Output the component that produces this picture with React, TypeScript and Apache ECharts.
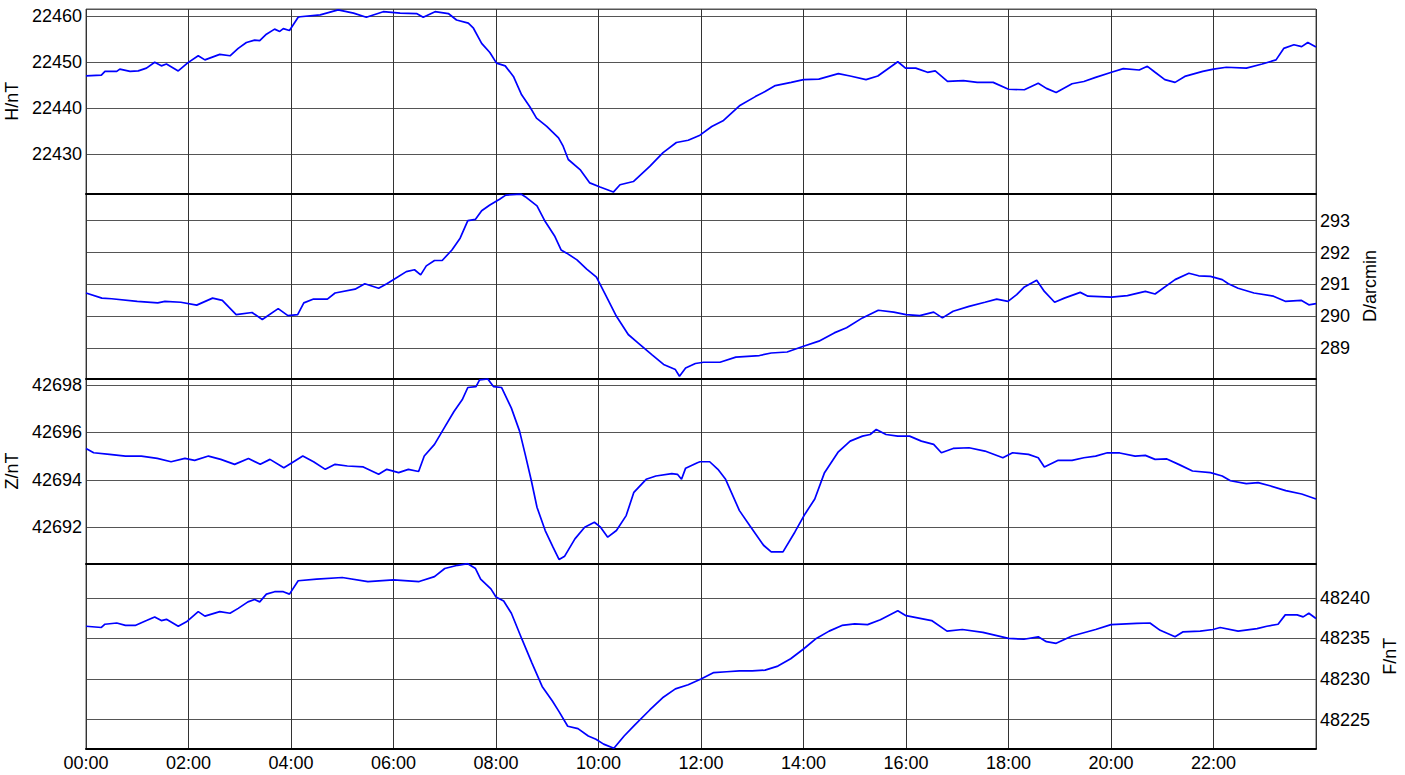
import React, { useEffect, useRef } from "react";
import * as echarts from "echarts";

// Hours of day (0..24) and values
const H_DATA: [number, number][] = [
  [0, 22447.0], [0.3, 22447.2], [0.37, 22448.0], [0.6, 22448.0], [0.66, 22448.5], [0.86, 22448.0], [1.02, 22448.1],
  [1.18, 22448.7], [1.34, 22450.0], [1.47, 22449.2], [1.57, 22449.6], [1.8, 22448.1], [1.99, 22449.9], [2.19, 22451.4],
  [2.32, 22450.5], [2.61, 22451.7], [2.81, 22451.4], [2.97, 22453.0], [3.13, 22454.3], [3.29, 22454.8], [3.39, 22454.7],
  [3.52, 22456.1], [3.68, 22457.2], [3.78, 22456.7], [3.85, 22457.3], [3.97, 22456.9], [4.14, 22459.8], [4.18, 22459.9],
  [4.57, 22460.3], [4.92, 22461.4], [5.22, 22460.7], [5.47, 22459.8], [5.8, 22461.0], [6.13, 22460.7], [6.45, 22460.6],
  [6.58, 22459.8], [6.81, 22461.0], [7.07, 22460.6], [7.23, 22459.2], [7.46, 22458.5], [7.56, 22457.4], [7.72, 22454.1],
  [7.88, 22452.1], [8.01, 22449.8], [8.18, 22449.2], [8.34, 22446.9], [8.5, 22442.9], [8.66, 22440.3], [8.79, 22437.8],
  [8.99, 22436.0], [9.22, 22433.5], [9.31, 22431.7], [9.41, 22428.8], [9.64, 22426.6], [9.83, 22423.7], [10.03, 22422.8],
  [10.29, 22421.7], [10.42, 22423.3], [10.68, 22424.0], [11.0, 22427.3], [11.26, 22430.3], [11.52, 22432.5], [11.75, 22433.0],
  [11.98, 22434.1], [12.21, 22436.0], [12.44, 22437.3], [12.75, 22440.5], [13.06, 22442.5], [13.25, 22443.6], [13.45, 22444.9],
  [13.76, 22445.6], [14.0, 22446.2], [14.3, 22446.3], [14.68, 22447.5], [14.91, 22447.0], [15.22, 22446.2], [15.45, 22447.0],
  [15.84, 22450.1], [15.99, 22448.7], [16.19, 22448.7], [16.42, 22447.8], [16.57, 22448.1], [16.81, 22445.8], [17.12, 22446.0],
  [17.39, 22445.6], [17.7, 22445.6], [18.0, 22444.1], [18.31, 22444.0], [18.58, 22445.4], [18.74, 22444.3], [18.93, 22443.4],
  [19.24, 22445.3], [19.47, 22445.8], [19.7, 22446.7], [20.01, 22447.8], [20.24, 22448.6], [20.55, 22448.3], [20.71, 22449.1],
  [20.86, 22447.8], [21.05, 22446.2], [21.25, 22445.6], [21.44, 22446.9], [21.79, 22448.0], [22.0, 22448.5], [22.25, 22448.9],
  [22.64, 22448.7], [22.95, 22449.6], [23.22, 22450.5], [23.37, 22453.0], [23.57, 22453.8], [23.72, 22453.4], [23.84, 22454.3],
  [24, 22453.3],
];

const D_DATA: [number, number][] = [
  [0, 290.73], [0.31, 290.57], [0.5, 290.55], [1, 290.47], [1.4, 290.42], [1.54, 290.47], [1.85, 290.44], [2.16, 290.35],
  [2.47, 290.57], [2.66, 290.5], [2.93, 290.05], [3.24, 290.12], [3.44, 289.9], [3.75, 290.24], [3.94, 290.02], [4.13, 290.05],
  [4.25, 290.42], [4.44, 290.54], [4.71, 290.54], [4.86, 290.73], [5.25, 290.85], [5.44, 291.02], [5.71, 290.88], [5.87, 291.02],
  [6.02, 291.17], [6.25, 291.4], [6.41, 291.46], [6.53, 291.3], [6.64, 291.58], [6.8, 291.75], [6.95, 291.75], [7.14, 292.08],
  [7.3, 292.45], [7.45, 293.0], [7.6, 293.04], [7.72, 293.31], [7.88, 293.49], [8.07, 293.67], [8.19, 293.8], [8.49, 293.83],
  [8.57, 293.75], [8.8, 293.46], [8.96, 292.97], [9.15, 292.5], [9.27, 292.08], [9.38, 291.98], [9.58, 291.77], [9.77, 291.48],
  [9.96, 291.23], [10.12, 290.73], [10.35, 290.0], [10.58, 289.43], [10.77, 289.17], [11.04, 288.8], [11.27, 288.49],
  [11.5, 288.33], [11.58, 288.12], [11.7, 288.38], [11.89, 288.52], [12.05, 288.56], [12.37, 288.56], [12.68, 288.72],
  [13.14, 288.77], [13.37, 288.85], [13.68, 288.88], [14, 289.06], [14.3, 289.22], [14.6, 289.48], [14.84, 289.64],
  [15.15, 289.95], [15.46, 290.19], [15.76, 290.13], [16, 290.05], [16.27, 290.02], [16.54, 290.13], [16.71, 289.95],
  [16.92, 290.16], [17.23, 290.31], [17.54, 290.44], [17.77, 290.54], [17.99, 290.47], [18.16, 290.68], [18.31, 290.92],
  [18.55, 291.13], [18.7, 290.78], [18.9, 290.44], [19.09, 290.57], [19.4, 290.75], [19.55, 290.63], [20.01, 290.6],
  [20.32, 290.65], [20.67, 290.78], [20.86, 290.7], [21.25, 291.15], [21.52, 291.35], [21.71, 291.27], [21.94, 291.25],
  [22.17, 291.15], [22.29, 291.02], [22.48, 290.88], [22.79, 290.73], [23.17, 290.63], [23.4, 290.47], [23.71, 290.5],
  [23.86, 290.36], [24, 290.4],
];

const Z_DATA: [number, number][] = [
  [0, 42695.32], [0.15, 42695.14], [0.46, 42695.07], [0.77, 42695.0], [1.08, 42695.0], [1.39, 42694.9], [1.66, 42694.76],
  [1.93, 42694.9], [2.12, 42694.82], [2.39, 42695.0], [2.63, 42694.86], [2.9, 42694.65], [3.17, 42694.9], [3.4, 42694.65],
  [3.59, 42694.86], [3.86, 42694.51], [4.02, 42694.72], [4.23, 42695.0], [4.44, 42694.76], [4.67, 42694.44], [4.86, 42694.65],
  [5.1, 42694.58], [5.41, 42694.54], [5.71, 42694.23], [5.87, 42694.44], [6.1, 42694.3], [6.29, 42694.44], [6.49, 42694.35],
  [6.6, 42695.0], [6.8, 42695.49], [6.99, 42696.19], [7.18, 42696.88], [7.34, 42697.37], [7.45, 42697.89], [7.61, 42697.93],
  [7.68, 42698.21], [7.84, 42698.25], [7.95, 42697.93], [8.11, 42697.89], [8.3, 42697.02], [8.46, 42696.05], [8.57, 42695.07],
  [8.69, 42693.96], [8.8, 42692.84], [8.96, 42691.86], [9.11, 42691.17], [9.23, 42690.64], [9.34, 42690.78], [9.54, 42691.51],
  [9.73, 42692.0], [9.92, 42692.21], [10.04, 42692.0], [10.18, 42691.58], [10.35, 42691.86], [10.54, 42692.49], [10.69, 42693.47],
  [10.93, 42694.02], [11.12, 42694.16], [11.43, 42694.26], [11.54, 42694.23], [11.62, 42694.02], [11.7, 42694.49], [11.93, 42694.72],
  [11.98, 42694.76], [12.17, 42694.76], [12.33, 42694.44], [12.48, 42694.02], [12.75, 42692.7], [12.95, 42692.07], [13.22, 42691.24],
  [13.37, 42690.96], [13.6, 42690.96], [13.83, 42691.79], [14.03, 42692.56], [14.22, 42693.19], [14.41, 42694.3], [14.68, 42695.18],
  [14.91, 42695.63], [15.15, 42695.84], [15.3, 42695.91], [15.42, 42696.12], [15.61, 42695.91], [15.84, 42695.84], [16.07, 42695.84],
  [16.3, 42695.63], [16.54, 42695.49], [16.69, 42695.14], [16.92, 42695.32], [17.23, 42695.35], [17.54, 42695.21], [17.89, 42694.93],
  [18.08, 42695.14], [18.39, 42695.07], [18.58, 42694.93], [18.7, 42694.54], [18.97, 42694.82], [19.24, 42694.82], [19.47, 42694.93],
  [19.7, 42695.0], [19.93, 42695.14], [20.17, 42695.13], [20.47, 42695.0], [20.67, 42695.03], [20.86, 42694.86], [21.09, 42694.88],
  [21.32, 42694.65], [21.59, 42694.37], [21.94, 42694.3], [22.17, 42694.16], [22.33, 42693.96], [22.64, 42693.84], [22.87, 42693.88],
  [23.1, 42693.75], [23.41, 42693.54], [23.72, 42693.4], [24, 42693.19],
];

const F_DATA: [number, number][] = [
  [0, 48236.5], [0.3, 48236.35], [0.37, 48236.75], [0.6, 48236.9], [0.77, 48236.6], [0.96, 48236.6], [1.18, 48237.2],
  [1.34, 48237.65], [1.47, 48237.2], [1.57, 48237.35], [1.8, 48236.5], [1.96, 48237.05], [2.19, 48238.3], [2.32, 48237.75],
  [2.61, 48238.3], [2.81, 48238.1], [2.97, 48238.7], [3.16, 48239.5], [3.29, 48239.8], [3.39, 48239.5], [3.52, 48240.45],
  [3.68, 48240.75], [3.85, 48240.75], [3.97, 48240.45], [4.14, 48242.1], [4.5, 48242.3], [5.0, 48242.5], [5.5, 48242.0],
  [6.0, 48242.2], [6.5, 48242.0], [6.8, 48242.6], [7.0, 48243.6], [7.25, 48244.0], [7.45, 48244.2], [7.6, 48243.6],
  [7.7, 48242.3], [7.9, 48241.1], [8.0, 48240.1], [8.15, 48239.6], [8.3, 48238.1], [8.5, 48235.0], [8.7, 48232.0],
  [8.9, 48229.1], [9.1, 48227.3], [9.23, 48226.0], [9.4, 48224.2], [9.6, 48223.9], [9.8, 48223.0], [9.95, 48222.6],
  [10.1, 48222.0], [10.3, 48221.5], [10.5, 48223.0], [10.7, 48224.3], [11.0, 48226.2], [11.25, 48227.7], [11.5, 48228.8],
  [11.75, 48229.3], [12.0, 48230.0], [12.25, 48230.8], [12.5, 48230.9], [12.75, 48231.0], [13.0, 48231.0], [13.25, 48231.1],
  [13.5, 48231.6], [13.75, 48232.5], [14.0, 48233.7], [14.25, 48235.0], [14.5, 48235.9], [14.75, 48236.6], [15.0, 48236.8],
  [15.25, 48236.7], [15.5, 48237.3], [15.84, 48238.4], [16.0, 48237.8], [16.5, 48237.2], [16.8, 48235.9], [17.1, 48236.1],
  [17.5, 48235.75], [18.0, 48235.0], [18.3, 48234.9], [18.58, 48235.2], [18.74, 48234.6], [18.93, 48234.4], [19.24, 48235.3],
  [19.7, 48236.1], [20.0, 48236.7], [20.5, 48236.85], [20.76, 48236.9], [20.96, 48236.0], [21.25, 48235.2], [21.4, 48235.8],
  [21.74, 48235.9], [21.99, 48236.1], [22.13, 48236.35], [22.48, 48235.9], [22.85, 48236.2], [23.04, 48236.5], [23.26, 48236.75],
  [23.4, 48237.9], [23.63, 48237.9], [23.75, 48237.65], [23.86, 48238.1], [24, 48237.45],
];

const PANEL_NAMES = ["H/nT", "D/arcmin", "Z/nT", "F/nT"];
const PANEL_SIDES = ["left", "right", "left", "right"];
const PANEL_MIN = [22421.39, 288.05, 42690.47, 48221.4];
const PANEL_MAX = [22461.59, 293.85, 42698.27, 48244.22];
const PANEL_STEP = [10, 1, 2, 5];
const PANEL_DATA = [H_DATA, D_DATA, Z_DATA, F_DATA];

const FONT = "Liberation Sans, Arial, sans-serif";

export default function App() {
  const ref = useRef<HTMLDivElement>(null);
  useEffect(() => {
    if (!ref.current) return;
    const chart = echarts.init(ref.current, undefined, { renderer: "svg" });
    const tops = [9, 193.5, 378.5, 563.5];
    const heights = [184.5, 185, 185, 185.5];
    const nameGaps = [56, 31, 57, 52];
    const grids = tops.map((t, i) => ({
      left: 86,
      width: 1230,
      top: t,
      height: heights[i],
      containLabel: false,
      outerBoundsMode: "none",
      show: true,
      borderColor: "#555",
      borderWidth: 1,
      backgroundColor: "transparent",
    }));
    const xAxes = tops.map((_, i) => ({
      type: "value",
      gridIndex: i,
      min: 0,
      max: 24,
      interval: 2,
      splitLine: { show: true, lineStyle: { color: "#333", width: 1 } },
      axisLine: { show: true, onZero: false, lineStyle: { color: "#000", width: 2 } },
      axisTick: { show: false },
      axisLabel: {
        show: i === 3,
        showMaxLabel: false,
        color: "#000",
        fontSize: 18,
        fontFamily: FONT,
        margin: 5,
        formatter: (v: number) => (v < 10 ? "0" + v : "" + v) + ":00",
      },
    }));
    const yAxes = tops.map((_, i) => ({
      type: "value",
      gridIndex: i,
      position: PANEL_SIDES[i],
      min: PANEL_MIN[i],
      max: PANEL_MAX[i],
      minInterval: PANEL_STEP[i],
      maxInterval: PANEL_STEP[i],
      scale: true,
      name: PANEL_NAMES[i],
      nameLocation: "middle",
      nameRotate: 90,
      nameGap: nameGaps[i],
      nameTextStyle: { color: "#000", fontSize: 18, fontFamily: FONT },
      splitLine: { show: true, lineStyle: { color: "#555", width: 1 } },
      axisLine: { show: false },
      axisTick: { show: false },
      axisLabel: {
        color: "#000",
        fontSize: 18,
        fontFamily: FONT,
        margin: 4,
        showMinLabel: false,
        showMaxLabel: false,
        formatter: (v: number) => String(Math.round(v)),
      },
    }));
    const series = PANEL_DATA.map((d, i) => ({
      type: "line",
      xAxisIndex: i,
      yAxisIndex: i,
      data: d,
      showSymbol: false,
      symbol: "none",
      clip: true,
      lineStyle: { color: "#0000ff", width: 1.7 },
    }));
    chart.setOption({
      animation: false,
      backgroundColor: "#fff",
      grid: grids,
      xAxis: xAxes,
      yAxis: yAxes,
      series,
    });
    return () => chart.dispose();
  }, []);
  return (
    <div
      ref={ref}
      style={{ position: "absolute", left: 0, top: 0, width: 1405, height: 775, background: "#fff" }}
    />
  );
}
